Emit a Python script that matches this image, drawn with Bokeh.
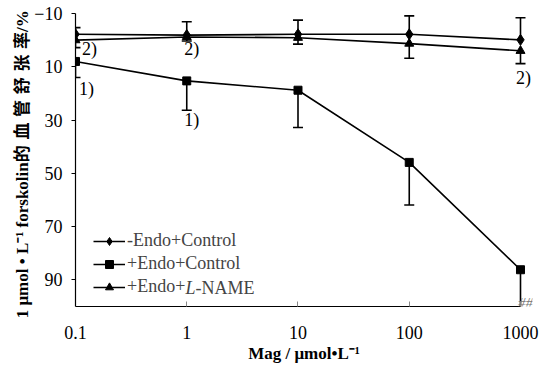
from bokeh.plotting import figure
from bokeh.models import (Range1d, FixedTicker, CustomJSTickFormatter, Whisker, TeeHead,
                          ColumnDataSource, Legend, LegendItem, Label, LabelSet, Title)
from bokeh.embed import file_html
from bokeh.resources import INLINE

# ---- data ----
mag = [0.1, 1, 10, 100, 1000]
minus_endo_control = [-2.2, -1.9, -2.2, -2.2, -0.1]
minus_endo_control_sd = [2.5, 5.0, 5.3, 6.9, 8.3]
plus_endo_control = [8.0, 15.3, 18.8, 45.9, 86.2]
plus_endo_control_sd = [6.0, 11.0, 14.0, 16.0, 16.0]
plus_endo_lname = [0.0, -1.2, -0.9, 1.3, 4.0]
plus_endo_lname_sd = [2.8, 1.5, 2.4, 5.5, 4.8]

x_ticks = [0.1, 1, 10, 100, 1000]
y_ticks = [-10, 10, 30, 50, 70, 90]

note_x = [0.1, 0.1, 1, 1, 1000]
note_y = [3.3, 18.3, 3.3, 30.0, 14.2]
note_text = ["2)", "1)", "2)", "1)", "2)"]
note_dx = [14, 11, 5, 5, 3]

FONT = "Liberation Serif, serif"
CJK = "Liberation Serif, Noto Sans CJK SC, serif"
FS = "18px"
X_END = 1282  # frame extends a little past 1000 so the right-hand notes are not clipped

p = figure(x_axis_type="log", x_range=Range1d(0.1, X_END), y_range=Range1d(100, -10),
           frame_width=457, frame_height=293, min_border_left=75, min_border_right=21,
           min_border_top=13, min_border_bottom=40,
           output_backend="svg", toolbar_location=None)
p.outline_line_color = None
p.xgrid.visible = False
p.ygrid.visible = False

# axes
p.xaxis.ticker = FixedTicker(ticks=x_ticks)
p.xaxis.bounds = (0.1, 1000)
p.xaxis.formatter = CustomJSTickFormatter(code="return String(tick)")
p.xaxis.minor_tick_line_color = None
p.xaxis.major_tick_in = 5
p.xaxis.major_tick_out = 0
p.xaxis.major_tick_line_color = "#888888"
p.xaxis.major_label_standoff = 19
p.xaxis.axis_label = "Mag / μmol•L⁻¹"
p.xaxis.axis_label_standoff = 2

p.yaxis.ticker = FixedTicker(ticks=y_ticks)
p.yaxis.minor_tick_line_color = None
p.yaxis.major_tick_in = 0
p.yaxis.major_tick_out = 4
p.yaxis.major_label_standoff = 9

for ax in (p.xaxis, p.yaxis):
    ax.axis_line_color = "black"
    ax.axis_line_width = 1.2
    ax.major_label_text_font = FONT
    ax.major_label_text_font_size = FS
    ax.major_label_text_color = "black"
    ax.axis_label_text_font = CJK
    ax.axis_label_text_font_size = "17px"
    ax.axis_label_text_font_style = "bold"
    ax.axis_label_text_color = "black"

ylabel = Title(text="1 μmol • L⁻¹   forskolin的\u2004血\u2004管\u2004舒\u2004张\u2004率/%",
               align="center", offset=-18, standoff=0,
               text_font=CJK, text_font_size="17px", text_font_style="bold",
               text_color="black")
p.add_layout(ylabel, "left")

series = [
    ("-Endo+Control", minus_endo_control, minus_endo_control_sd, "diamond", 11, -1),
    ("+Endo+Control", plus_endo_control, plus_endo_control_sd, "square", 8, 1),
    ("+Endo+", plus_endo_lname, plus_endo_lname_sd, "triangle", 9, 1),
]

items = []
for label, vals, sd, marker, size, direction in series:
    ends = [v + direction * s for v, s in zip(vals, sd)]
    src = ColumnDataSource(dict(x=mag, y=vals, e=ends))
    lr = p.line("x", "y", source=src, line_color="black", line_width=1.6)
    w = Whisker(base="x", upper="e", lower="y", source=src, dimension="height",
                line_color="black", line_width=1.6,
                upper_head=TeeHead(size=10, line_color="black", line_width=1.6),
                lower_head=None, level="glyph")
    p.add_layout(w)
    sr = p.scatter("x", "y", source=src, marker=marker, size=size,
                   fill_color="black", line_color="black")
    items.append(LegendItem(label=label, renderers=[lr, sr]))

legend = Legend(items=items, location=(18, 9), padding=0, margin=0, spacing=2,
                glyph_width=32, glyph_height=20, label_height=20, label_standoff=2,
                label_text_font=FONT, label_text_font_size=FS,
                border_line_alpha=0, background_fill_alpha=0)
p.add_layout(legend, "center")

p.add_layout(Label(x=110, y=19, x_units="screen", y_units="screen", text="L",
                   text_font=FONT, text_font_size=FS, text_font_style="italic",
                   text_baseline="middle"))
p.add_layout(Label(x=120, y=19, x_units="screen", y_units="screen", text="-NAME",
                   text_font=FONT, text_font_size=FS, text_baseline="middle"))

notes = ColumnDataSource(dict(x=note_x, y=note_y, t=note_text, dx=note_dx))
p.add_layout(LabelSet(x="x", y="y", text="t", source=notes, x_offset="dx",
                      text_align="center", text_baseline="middle", text_font=FONT,
                      text_font_size=FS, text_color="black"))
p.add_layout(Label(x=1000, y=98.6, text="##", x_offset=5, text_align="center",
                   text_baseline="middle", text_font=FONT, text_font_size="15px",
                   text_font_style="italic", text_color="#777777"))

open("out.html", "w").write(file_html(p, INLINE))
